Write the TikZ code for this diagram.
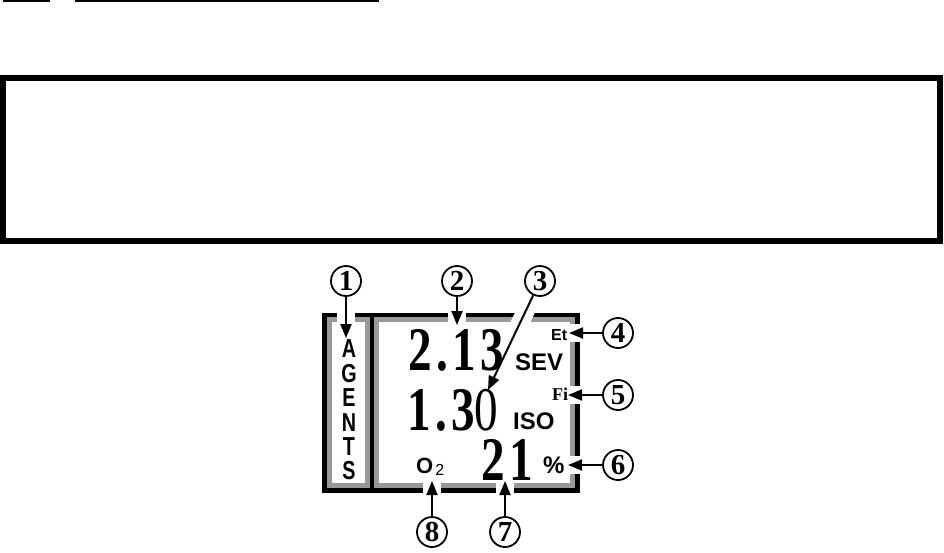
\documentclass[tikz,border=0pt]{standalone}
\usepackage{fontspec}
\setmainfont{Liberation Serif}
\newfontfamily\lcdsans{Liberation Sans}
\newfontfamily\lcdnarrow[FakeStretch=0.76]{Liberation Sans}
\newfontfamily\lcdnum[FakeStretch=0.76,LetterSpace=7]{Liberation Serif}
\usepackage{tikz}
\usetikzlibrary{arrows.meta}
\definecolor{lcdgrey}{gray}{0.6}
\pgfdeclarelayer{frame}
\pgfdeclarelayer{halo}
\pgfsetlayers{frame,halo,main}

\begin{document}
\begin{tikzpicture}[x=1pt,y=-1pt,>={Triangle[length=14pt,width=11pt]},
  callout/.style={draw,circle,line width=1.8pt,minimum size=30pt,inner sep=0pt,
    font=\fontsize{29}{29}\selectfont\bfseries},
  pointer/.style={->,line width=2pt},
  halo/.style={draw=white,line width=18pt},
  reading/.style={anchor=base west,inner sep=0pt,font=\lcdnum\fontsize{62}{62}\selectfont\bfseries},
  tag/.style={anchor=base west,inner sep=0pt,font=\lcdsans\fontsize{24}{24}\selectfont\bfseries}]
\useasboundingbox (0,0) rectangle (944,552);

% rules and empty box above
\draw[line width=1.5pt] (3,0.75) -- (50,0.75) (75,0.75) -- (379,0.75);
\draw[line width=6pt] (3,78) rectangle (940,241);

% display frame
\begin{pgfonlayer}{frame}
\draw[line width=5pt] (324.5,315) rectangle (577.5,490.5);
\draw[line width=4.5pt] (372,315) -- (372,490.5);
\draw[lcdgrey,line width=5pt] (329.5,319.5) rectangle (367.5,485.5);
\draw[lcdgrey,line width=5pt] (376.5,319.5) rectangle (572.5,485.5);
\end{pgfonlayer}

% display contents
\node[font=\lcdnarrow\fontsize{26}{24.4}\selectfont\bfseries,align=center,inner sep=0pt] (agents) at (349,410) {A\\G\\E\\N\\T\\S};
\node[reading] (setval) at (408,370) {2.13};
\node[reading] (measval) at (407,430) {1.3{\mdseries 0}};
\node[reading] (oxyval) at (481,480) {21};
\node[tag] (sev) at (515,370) {SEV};
\node[tag] (iso) at (513,429) {ISO};
\node[tag,font=\lcdsans\fontsize{16}{16}\selectfont\bfseries] (et) at (551,340) {Et};
\node[anchor=base west,inner sep=0pt,font=\fontsize{18}{18}\selectfont\bfseries] (fi) at (552,400) {Fi};
\node[tag] (pct) at (543,473) {\%};
\node[tag,font=\lcdsans\fontsize{22}{22}\selectfont\bfseries] (oxy) at (416,473)
  {O\kern2pt\raisebox{-2pt}{\fontsize{16}{16}\selectfont\mdseries 2}};

% callouts
\node[callout] (c1) at (346,281) {1};
\node[callout] (c2) at (457,281) {2};
\node[callout] (c3) at (540,281) {3};
\node[callout] (c4) at (618,333) {4};
\node[callout] (c5) at (618,395) {5};
\node[callout] (c6) at (618,465) {6};
\node[callout] (c7) at (505,532) {7};
\node[callout] (c8) at (432,532) {8};

\coordinate (tip1) at (346,338);
\coordinate (tip2) at (457,325);
\coordinate (tip3) at (488,390);
\coordinate (tip4) at (569,333);
\coordinate (tip5) at (568,395);
\coordinate (tip6) at (568,465);
\coordinate (tip7) at (505,481);
\coordinate (tip8) at (432,481);

\begin{pgfonlayer}{halo}
\foreach \n in {1,...,8} \draw[halo] (c\n) -- (tip\n);
\end{pgfonlayer}
\foreach \n in {1,...,8} \draw[pointer] (c\n) -- (tip\n);
\end{tikzpicture}
\end{document}
